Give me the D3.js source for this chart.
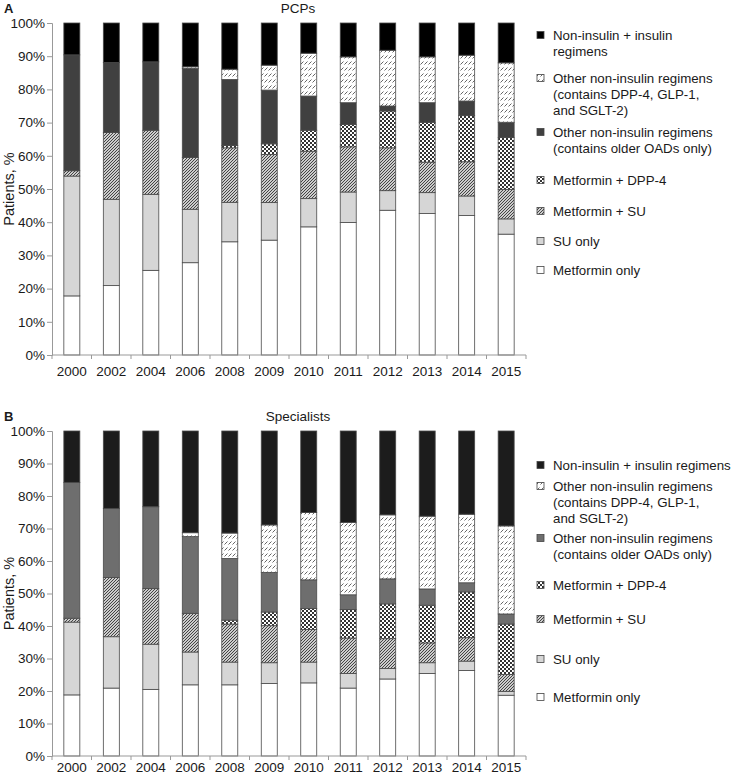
<!DOCTYPE html>
<html>
<head>
<meta charset="utf-8">
<script src="https://cdn.jsdelivr.net/npm/d3@7"></script>
<style>
  body { margin: 0; background: #fff; }
  text { font-family: "Liberation Sans", Arial, sans-serif; fill: #1a1a1a; }
</style>
</head>
<body>
<div id="main"></div>
<script>
var years = ["2000", "2002", "2004", "2006", "2008", "2009", "2010", "2011", "2012", "2013", "2014", "2015"];
var seriesKeys = ["met", "su", "metSu", "metDpp4", "older", "newer", "insulin"];
var legendLabels = {
  insulin: "Non-insulin + insulin regimens",
  newer: "Other non-insulin regimens (contains DPP-4, GLP-1, and SGLT-2)",
  older: "Other non-insulin regimens (contains older OADs only)",
  metDpp4: "Metformin + DPP-4",
  metSu: "Metformin + SU",
  su: "SU only",
  met: "Metformin only"
};

// panel A, PCPs (% of patients per segment)
var pcpMet     = [17.8, 20.9, 25.5, 27.8, 34.1, 34.6, 38.6, 39.9, 43.6, 42.6, 42.0, 36.4];
var pcpSu      = [36.1, 26.0, 22.9, 16.1, 11.9, 11.3, 8.5, 9.2, 5.9, 6.3, 5.9, 4.6];
var pcpMetSu   = [1.6, 20.1, 19.3, 15.6, 16.4, 14.5, 14.3, 13.6, 12.9, 9.2, 10.3, 8.9];
var pcpMetDpp4 = [0, 0, 0, 0, 0.7, 3.2, 6.3, 6.7, 11.1, 12.0, 13.9, 15.6];
var pcpOlder   = [34.9, 21.1, 20.6, 26.8, 19.9, 16.2, 10.3, 6.6, 1.5, 5.9, 4.4, 4.6];
var pcpNewer   = [0, 0, 0, 0.5, 3.1, 7.5, 12.9, 13.8, 16.8, 13.8, 13.8, 17.9];
var pcpInsulin = [9.6, 11.9, 11.7, 13.2, 13.9, 12.7, 9.1, 10.2, 8.2, 10.2, 9.7, 12.0];

// panel B, specialists
var specMet     = [18.8, 20.9, 20.5, 21.9, 21.9, 22.3, 22.5, 20.9, 23.7, 25.4, 26.3, 18.7];
var specSu      = [22.4, 15.8, 13.9, 10.1, 7.0, 6.4, 6.4, 4.5, 3.2, 3.3, 2.9, 1.2];
var specMetSu   = [1.2, 18.2, 17.1, 11.9, 11.7, 11.4, 10.0, 10.9, 9.2, 6.1, 7.2, 5.2];
var specMetDpp4 = [0, 0, 0, 0, 1.2, 4.2, 6.5, 8.8, 10.7, 11.6, 14.1, 15.5];
var specOlder   = [41.8, 21.3, 25.2, 23.6, 19.0, 12.2, 8.8, 4.5, 7.7, 5.0, 2.8, 3.1];
var specNewer   = [0, 0, 0, 1.2, 7.8, 14.6, 20.7, 22.3, 19.7, 22.4, 21.1, 27.1];
var specInsulin = [15.8, 23.8, 23.3, 31.3, 31.4, 28.9, 25.1, 28.1, 25.8, 26.2, 25.6, 29.2];

var yTicks = [0, 10, 20, 30, 40, 50, 60, 70, 80, 90, 100];

function toRows(arrs) {
  return years.map(function (y, i) {
    var r = { year: y };
    seriesKeys.forEach(function (k, j) { r[k] = arrs[j][i]; });
    return r;
  });
}

var width = 731, height = 774;
var svg = d3.select("#main").append("svg").attr("width", width).attr("height", height);
var defs = svg.append("defs");

// hatch: Metformin + SU
var p1 = defs.append("pattern").attr("id", "hatch").attr("patternUnits", "userSpaceOnUse")
  .attr("width", 3).attr("height", 3);
p1.append("rect").attr("width", 3).attr("height", 3).attr("fill", "#cccccc");
p1.append("path").attr("d", "M-1,1 L1,-1 M0,3 L3,0 M2,4 L4,2").attr("stroke", "#444").attr("stroke-width", 1);

// checkerboard: Metformin + DPP-4
var p2 = defs.append("pattern").attr("id", "check").attr("patternUnits", "userSpaceOnUse")
  .attr("width", 4).attr("height", 4);
p2.append("rect").attr("width", 4).attr("height", 4).attr("fill", "#fff");
p2.append("rect").attr("width", 2).attr("height", 2).attr("fill", "#333");
p2.append("rect").attr("x", 2).attr("y", 2).attr("width", 2).attr("height", 2).attr("fill", "#333");

// rows of short dashes: other non-insulin (newer)
var p3 = defs.append("pattern").attr("id", "dash").attr("patternUnits", "userSpaceOnUse")
  .attr("width", 4).attr("height", 6);
p3.append("rect").attr("width", 4).attr("height", 6).attr("fill", "#fff");
p3.append("path").attr("d", "M0.5,4.5 L3.5,1.5").attr("stroke", "#555").attr("stroke-width", 0.9);

var plotLeft = 52, plotRight = 526;
var x = d3.scaleBand().domain(years).range([plotLeft, plotRight]).paddingInner(0.595).paddingOuter(0.3);

function drawPanel(cfg) {
  var rows = toRows(cfg.data);
  var stack = d3.stack().keys(seriesKeys)(rows);
  var y = d3.scaleLinear().domain([0, 100]).range([cfg.bottom, cfg.top]);
  var g = svg.append("g");

  var fills = {
    met: "#ffffff", su: "#d6d6d6", metSu: "url(#hatch)", metDpp4: "url(#check)",
    older: cfg.olderColor, newer: "url(#dash)", insulin: cfg.insulinColor
  };

  g.selectAll("g.layer").data(stack).enter().append("g")
    .attr("class", "layer")
    .attr("fill", function (d) { return fills[d.key]; })
    .selectAll("rect").data(function (d) { return d.filter(function (e) { return e[1] - e[0] > 0; }); })
    .enter().append("rect")
    .attr("x", function (d) { return x(d.data.year); })
    .attr("width", x.bandwidth())
    .attr("y", function (d) { return y(d[1]); })
    .attr("height", function (d) { return y(d[0]) - y(d[1]); })
    .attr("stroke", "#4a4a4a").attr("stroke-width", 0.8);

  // y axis
  var yAxis = g.append("g").attr("transform", "translate(" + plotLeft + ",0)")
    .call(d3.axisLeft(y).tickValues(yTicks).tickSize(5).tickPadding(2).tickFormat(function (d) { return d + "%"; }));
  yAxis.select(".domain").attr("stroke", "#999");
  yAxis.selectAll(".tick line").attr("stroke", "#999");
  yAxis.selectAll("text").style("font-size", "13.5px").attr("fill", "#1a1a1a");

  // x axis: ticks between bars
  g.append("line").attr("x1", plotLeft).attr("x2", plotRight)
    .attr("y1", cfg.bottom).attr("y2", cfg.bottom).attr("stroke", "#999");
  d3.range(years.length + 1).forEach(function (i) {
    var tx = plotLeft + i * (plotRight - plotLeft) / years.length;
    g.append("line").attr("x1", tx).attr("x2", tx).attr("y1", cfg.bottom).attr("y2", cfg.bottom + 4)
      .attr("stroke", "#999");
  });
  g.selectAll("text.year").data(years).enter().append("text")
    .attr("class", "year")
    .attr("x", function (d) { return x(d) + x.bandwidth() / 2; })
    .attr("y", cfg.bottom + cfg.yearOffset)
    .attr("text-anchor", "middle").style("font-size", "13.5px")
    .text(function (d) { return d; });

  // y label
  g.append("text")
    .attr("transform", "translate(14," + ((cfg.top + cfg.bottom) / 2) + ") rotate(-90)")
    .attr("text-anchor", "middle").style("font-size", "14.5px")
    .text("Patients, %");

  // title and panel letter
  g.append("text").attr("x", 298).attr("y", cfg.top - 10).attr("text-anchor", "middle")
    .style("font-size", "13.5px").text(cfg.title);
  g.append("text").attr("x", 4).attr("y", cfg.top - 10).style("font-size", "13px")
    .style("font-weight", "bold").text(cfg.letter);

  // legend
  var order = ["insulin", "newer", "older", "metDpp4", "metSu", "su", "met"];
  order.forEach(function (k, i) {
    var ly = cfg.legendY[i];
    g.append("rect").attr("x", 537).attr("y", ly - 3.5).attr("width", 7).attr("height", 7)
      .attr("fill", fills[k]).attr("stroke", "#444").attr("stroke-width", 0.8);
    var t = g.append("text").attr("x", 553).attr("y", ly + 5).style("font-size", "13.3px");
    cfg.legendLines[k].forEach(function (line, j) {
      t.append("tspan").attr("x", 553).attr("dy", j === 0 ? 0 : 16).text(line);
    });
  });
}

drawPanel({
  data: [pcpMet, pcpSu, pcpMetSu, pcpMetDpp4, pcpOlder, pcpNewer, pcpInsulin],
  top: 23, bottom: 355, yearOffset: 21, title: "PCPs", letter: "A",
  insulinColor: "#000000", olderColor: "#404040",
  legendY: [35, 78, 132, 180, 211, 241, 270],
  legendLines: {
    insulin: ["Non-insulin + insulin", "regimens"],
    newer: ["Other non-insulin regimens", "(contains DPP-4, GLP-1,", "and SGLT-2)"],
    older: ["Other non-insulin regimens", "(contains older OADs only)"],
    metDpp4: [legendLabels.metDpp4], metSu: [legendLabels.metSu],
    su: [legendLabels.su], met: [legendLabels.met]
  }
});

drawPanel({
  data: [specMet, specSu, specMetSu, specMetDpp4, specOlder, specNewer, specInsulin],
  top: 431, bottom: 756, yearOffset: 16, title: "Specialists", letter: "B",
  insulinColor: "#1c1c1c", olderColor: "#6e6e6e",
  legendY: [465, 486, 538, 585, 619, 659, 697],
  legendLines: {
    insulin: [legendLabels.insulin],
    newer: ["Other non-insulin regimens", "(contains DPP-4, GLP-1,", "and SGLT-2)"],
    older: ["Other non-insulin regimens", "(contains older OADs only)"],
    metDpp4: [legendLabels.metDpp4], metSu: [legendLabels.metSu],
    su: [legendLabels.su], met: [legendLabels.met]
  }
});
</script>
</body>
</html>
